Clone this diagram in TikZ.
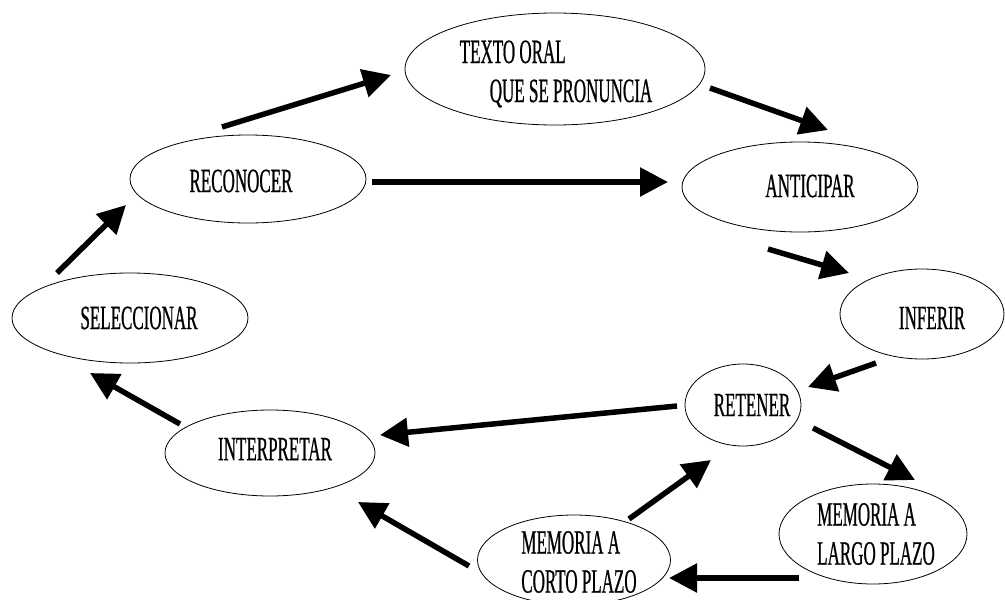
\documentclass[tikz,border=0pt]{standalone}
\usepackage{fontspec}
\setmainfont{Liberation Serif}[FakeStretch=0.5,FakeBold=0.6]
\usetikzlibrary{arrows.meta,shapes.geometric}
\begin{document}
\begin{tikzpicture}[x=1pt,y=-1pt,
  bub/.style={draw, ellipse, line width=0.8pt, inner sep=0pt},
  lbl/.style={font=\fontsize{34}{39}\selectfont, inner sep=0pt, align=left},
  arr/.style={line width=5.5pt, -{Triangle[length=28pt,width=28pt]}}]
\useasboundingbox (0,0) rectangle (1005,600);
% ellipses
\node[bub, minimum width=300pt, minimum height=112pt] (texto) at (555,69) {};
\node[bub, minimum width=236pt, minimum height=88pt] (reco) at (248,179) {};
\node[bub, minimum width=236pt, minimum height=90pt] (anti) at (800,187) {};
\node[bub, minimum width=236pt, minimum height=90pt] (sele) at (130,318) {};
\node[bub, minimum width=164pt, minimum height=90pt] (infe) at (922,314) {};
\node[bub, minimum width=116pt, minimum height=82pt] (rete) at (743,405) {};
\node[bub, minimum width=210pt, minimum height=86pt] (inte) at (270,453) {};
\node[bub, minimum width=188pt, minimum height=100pt] (larg) at (873,534) {};
\node[bub, minimum width=193pt, minimum height=90pt] (cort) at (574,560) {};
% labels
\node[lbl] (textot) at (556,74) {TEXTO ORAL\\\hspace*{30pt}QUE SE PRONUNCIA};
\node[lbl] (recot) at (241,181) {RECONOCER};
\node[lbl] (antit) at (810,186) {ANTICIPAR};
\node[lbl] (selet) at (139,318) {SELECCIONAR};
\node[lbl] (infet) at (932,318) {INFERIR};
\node[lbl] (retet) at (752,405) {RETENER};
\node[lbl] (intet) at (275,449) {INTERPRETAR};
\node[lbl] (largt) at (876,534) {MEMORIA A\\LARGO PLAZO};
\node[lbl] (cortt) at (579,562) {MEMORIA A\\CORTO PLAZO};
% arrow ends
\coordinate (a1s) at (222,127);  \coordinate (a1e) at (391,75);
\coordinate (a2s) at (710,88);   \coordinate (a2e) at (828,130);
\coordinate (a3s) at (372,182);  \coordinate (a3e) at (668,182);
\coordinate (a4s) at (768,249);  \coordinate (a4e) at (849,273);
\coordinate (a5s) at (876,363);  \coordinate (a5e) at (808,387);
\coordinate (a6s) at (677,406);  \coordinate (a6e) at (380,435);
\coordinate (a7s) at (813,428);  \coordinate (a7e) at (915,480);
\coordinate (a8s) at (799,578);  \coordinate (a8e) at (669,578);
\coordinate (a9s) at (629,519);  \coordinate (a9e) at (711,460);
\coordinate (a10s) at (469,566); \coordinate (a10e) at (358,502);
\coordinate (a11s) at (180,424); \coordinate (a11e) at (90,373);
\coordinate (a12s) at (57,273);  \coordinate (a12e) at (126,205);
\draw[arr] (a1s) -- (a1e);
\draw[arr] (a2s) -- (a2e);
\draw[arr] (a3s) -- (a3e);
\draw[arr] (a4s) -- (a4e);
\draw[arr] (a5s) -- (a5e);
\draw[arr] (a6s) -- (a6e);
\draw[arr] (a7s) -- (a7e);
\draw[arr] (a8s) -- (a8e);
\draw[arr] (a9s) -- (a9e);
\draw[arr] (a10s) -- (a10e);
\draw[arr] (a11s) -- (a11e);
\draw[arr] (a12s) -- (a12e);
\end{tikzpicture}
\end{document}
